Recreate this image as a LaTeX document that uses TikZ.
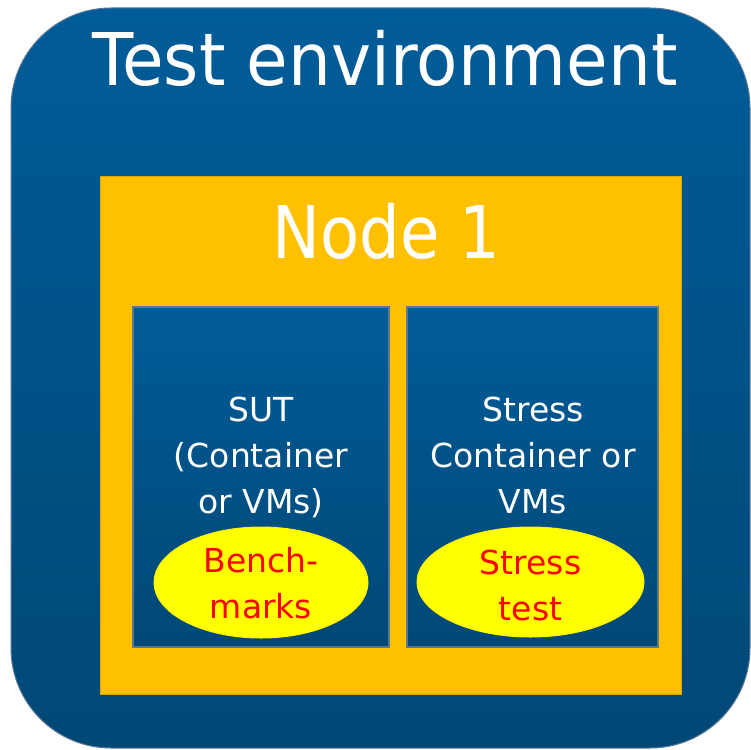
\documentclass[tikz,border=0pt]{standalone}
\usepackage{fontspec}
\newfontfamily\tah[FakeStretch=0.88]{DejaVu Sans}
\newfontfamily\tahtitle[FakeStretch=0.93]{DejaVu Sans}
\newfontfamily\tahbox{DejaVu Sans}
\usetikzlibrary{shapes.geometric}
\definecolor{bluetop}{RGB}{0,92,152}
\definecolor{bluebot}{RGB}{0,72,118}
\definecolor{edgeblue}{RGB}{90,120,150}
\definecolor{orng}{RGB}{255,192,0}
\definecolor{yel}{RGB}{255,255,0}
\definecolor{redt}{RGB}{255,0,0}
\begin{document}
\begin{tikzpicture}[x=1pt,y=-1pt,
  envbox/.style={rounded corners=100pt, top color=bluetop, bottom color=bluebot, draw=edgeblue, line width=1pt},
  nodebox/.style={fill=orng, draw=orng!85!black, line width=0.6pt},
  vmbox/.style={top color=bluetop, bottom color=bluebot, draw=edgeblue, line width=1.2pt},
  blob/.style={ellipse, fill=yel, draw=yel!80!orng, line width=1pt, inner sep=0pt},
  bigtxt/.style={text=white, inner sep=0pt, anchor=base, font=\tah\fontsize{72.7}{80}\selectfont},
  boxtxt/.style={text=white, inner sep=0pt, anchor=base, align=center, font=\tahbox\fontsize{33}{46}\selectfont},
  redtxt/.style={text=redt, inner sep=0pt, anchor=base, align=center, font=\tahbox\fontsize{33}{46}\selectfont}]
\useasboundingbox (0,0) rectangle (751,749);
\path[envbox] (11,8) rectangle (750,748);
\path[nodebox] (100,176) rectangle (681,694);
\path[vmbox] (133,307) rectangle (389,647);
\path[vmbox] (407,307) rectangle (658,647);
\node[blob, minimum width=214pt, minimum height=111pt] (e1) at (261,582.5) {};
\node[blob, minimum width=227pt, minimum height=110pt] (e2) at (530.5,582) {};
\node[bigtxt, font=\tahtitle\fontsize{72.7}{80}\selectfont] (title) at (385,86) {Test environment};
\node[bigtxt] (node1) at (386.5,258) {Node 1};
\node[boxtxt] (sut) at (261,513) {SUT\\(Container\\or VMs)};
\node[boxtxt] (stress) at (533,513) {Stress\\Container or\\VMs};
\node[redtxt] (bench) at (261,618) {Bench-\\marks};
\node[redtxt] (stresstest) at (530.5,620) {Stress\\test};
\end{tikzpicture}
\end{document}
